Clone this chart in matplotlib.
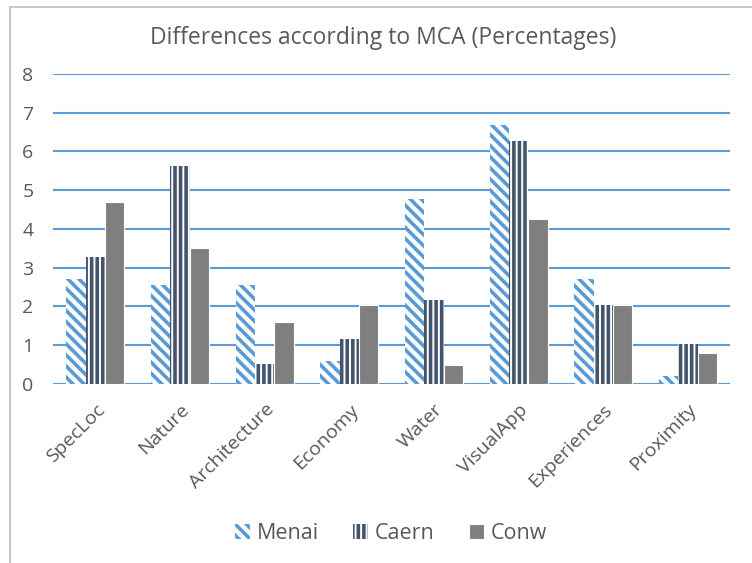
import numpy as np
import matplotlib.pyplot as plt
from matplotlib.patches import Rectangle

# Данные
categories = ['SpecLoc', 'Nature', 'Architecture', 'Economy', 'Water',
              'VisualApp', 'Experiences', 'Proximity']
menai = [2.71, 2.55, 2.55, 0.59, 4.77, 6.68, 2.70, 0.21]
caern = [3.27, 5.63, 0.52, 1.15, 2.17, 6.27, 2.04, 1.03]
conw = [4.70, 3.50, 1.59, 2.04, 0.49, 4.25, 2.04, 0.79]

plt.rcParams['font.family'] = ['Open Sans', 'DejaVu Sans']
plt.rcParams['hatch.linewidth'] = 2.6

fig = plt.figure(figsize=(7.52, 5.63), dpi=100)
ax = fig.add_axes([0.0705, 0.318, 0.9005, 0.5506])

# рамка области диаграммы
fig.patches.append(Rectangle((10 / 752, -0.1), 1.2, 1 - 7 / 563 + 0.1,
                             transform=fig.transFigure, fill=False,
                             edgecolor='#BFBFBF', linewidth=1.2))

x = np.arange(len(categories))
w = 0.228
ax.bar(x - w, menai, w, color='white', edgecolor='#5B9BD5', hatch='\\\\\\',
       linewidth=0, label='Menai', zorder=3)
ax.bar(x, caern, w, color='white', edgecolor='#44546A', hatch='|||',
       linewidth=0, label='Caern', zorder=3)
ax.bar(x + w, conw, w, color='#7F7F7F', edgecolor='white', linewidth=0.8,
       label='Conw', zorder=3)

ax.set_xlim(-0.5, len(categories) - 0.5)
ax.set_ylim(0, 8)
ax.set_yticks(range(9))
ax.yaxis.grid(True, color='#5B9BD5', linewidth=1.5, zorder=0)
ax.set_axisbelow(True)
for s in ax.spines.values():
    s.set_visible(False)
ax.tick_params(length=0, labelsize=14, colors='#595959')
ax.tick_params(axis='y', pad=14)
ax.set_xticks(x)
ax.set_xticklabels(categories, rotation=45, ha='right', rotation_mode='anchor')
ax.tick_params(axis='x', pad=12)

fig.text(0.51, 0.932, 'Differences according to MCA (Percentages)',
         ha='center', va='center', fontsize=16.5, color='#595959')

leg = fig.legend(loc='center', bbox_to_anchor=(0.52, 0.052), ncol=3,
                 frameon=False, fontsize=15.5, handlelength=0.7,
                 handleheight=0.7, handletextpad=0.3, columnspacing=1.6,
                 labelcolor='#595959')

fig.savefig('out.png', dpi=100)
